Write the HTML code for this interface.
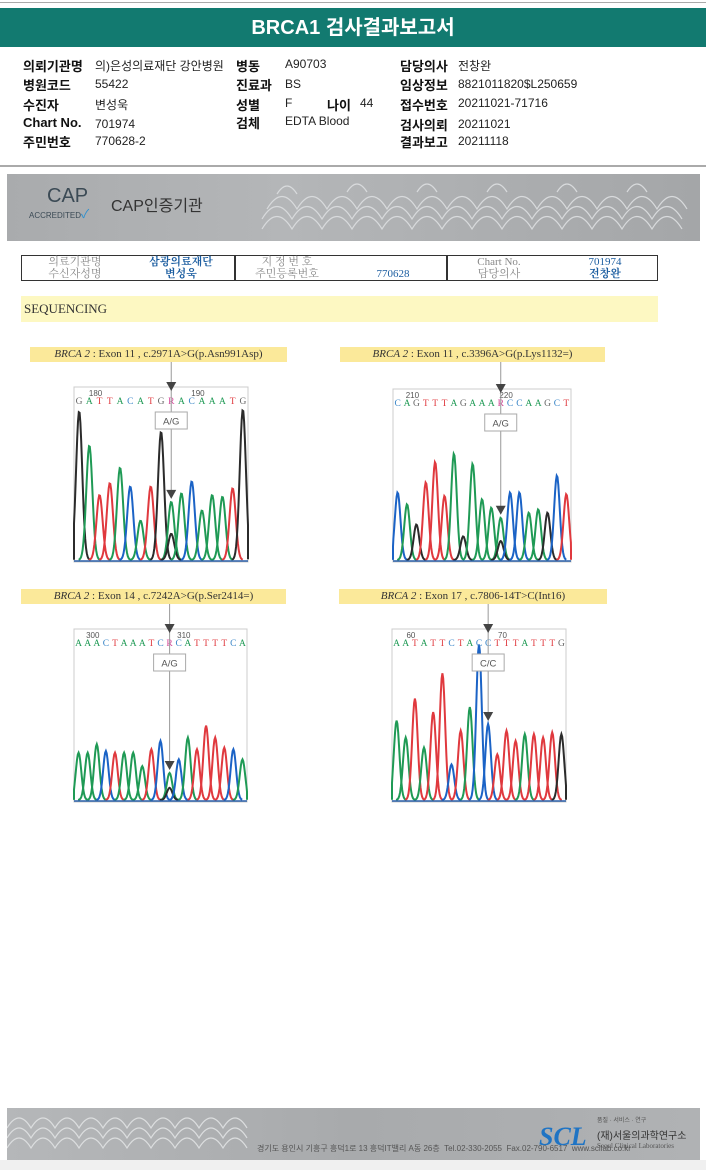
<!DOCTYPE html>
<html><head><meta charset="utf-8">
<style>
body{margin:0;width:706px;height:1170px;background:#fff;position:relative;overflow:hidden;font-family:"Liberation Sans","Noto Sans CJK KR",sans-serif;}
.a{position:absolute;white-space:nowrap;}
.lb{font-weight:bold;font-size:13px;color:#111;}
.v{font-size:12px;color:#222;}
.tbl{position:absolute;left:21px;top:255px;width:637px;height:26px;border:1.5px solid #333;box-sizing:border-box;font-family:"Liberation Serif","Noto Serif CJK SC",serif;font-size:11px;}
.tbl div{position:absolute;text-align:center;height:12px;line-height:12px;}
.ylab{position:absolute;background:#fbe99a;font-family:"Liberation Serif","Noto Serif CJK SC",serif;font-size:11px;color:#333;text-align:center;height:15px;line-height:15px;}
</style></head><body>
<div class="a" style="left:0;top:2px;width:706px;height:1px;background:#aaa"></div>
<div class="a" style="left:0;top:8px;width:706px;height:39px;background:#127a70;color:#fff;font-weight:bold;font-size:20px;text-align:center;line-height:40px">BRCA1 검사결과보고서</div>

<div>
<div class="a lb" style="left:23px;top:56px">의뢰기관명</div><div class="a v" style="left:95px;top:57px">의)은성의료재단 강안병원</div>
<div class="a lb" style="left:23px;top:75px">병원코드</div><div class="a v" style="left:95px;top:77px">55422</div>
<div class="a lb" style="left:23px;top:95px">수진자</div><div class="a v" style="left:95px;top:96px">변성욱</div>
<div class="a lb" style="left:23px;top:115px">Chart No.</div><div class="a v" style="left:95px;top:117px">701974</div>
<div class="a lb" style="left:23px;top:132px">주민번호</div><div class="a v" style="left:95px;top:134px">770628-2</div>
<div class="a lb" style="left:236px;top:56px">병동</div><div class="a v" style="left:285px;top:57px">A90703</div>
<div class="a lb" style="left:236px;top:75px">진료과</div><div class="a v" style="left:285px;top:77px">BS</div>
<div class="a lb" style="left:236px;top:95px">성별</div><div class="a v" style="left:285px;top:96px">F</div>
<div class="a lb" style="left:327px;top:95px">나이</div><div class="a v" style="left:360px;top:96px">44</div>
<div class="a lb" style="left:236px;top:113px">검체</div><div class="a v" style="left:285px;top:114px">EDTA Blood</div>
<div class="a lb" style="left:400px;top:56px">담당의사</div><div class="a v" style="left:458px;top:57px">전창완</div>
<div class="a lb" style="left:400px;top:75px">임상정보</div><div class="a v" style="left:458px;top:77px">8821011820$L250659</div>
<div class="a lb" style="left:400px;top:95px">접수번호</div><div class="a v" style="left:458px;top:96px">20211021-71716</div>
<div class="a lb" style="left:400px;top:115px">검사의뢰</div><div class="a v" style="left:458px;top:117px">20211021</div>
<div class="a lb" style="left:400px;top:132px">결과보고</div><div class="a v" style="left:458px;top:134px">20211118</div>
</div>
<div class="a" style="left:0;top:165px;width:706px;height:2px;background:#aaa"></div>

<div class="a" style="left:7px;top:174px;width:693px;height:67px;background:linear-gradient(90deg,#a9abad,#b4b6b8 40%,#a4a6a8)">
<svg width="693" height="67" style="position:absolute;left:0;top:0">
<g fill="none" stroke="#d8dadc" stroke-width="1.2">
<path d="M260 35 q15-25 30 0 q15-25 30 0 q15-25 30 0 q15-25 30 0 q15-25 30 0 q15-25 30 0 q15-25 30 0 q15-25 30 0 q15-25 30 0 q15-25 30 0 q15-25 30 0 q15-25 30 0 q15-25 30 0 q15-25 30 0"/>
<path d="M255 45 q15-25 30 0 q15-25 30 0 q15-25 30 0 q15-25 30 0 q15-25 30 0 q15-25 30 0 q15-25 30 0 q15-25 30 0 q15-25 30 0 q15-25 30 0 q15-25 30 0 q15-25 30 0 q15-25 30 0 q15-25 30 0"/>
<path d="M255 55 q15-25 30 0 q15-25 30 0 q15-25 30 0 q15-25 30 0 q15-25 30 0 q15-25 30 0 q15-25 30 0 q15-25 30 0 q15-25 30 0 q15-25 30 0 q15-25 30 0 q15-25 30 0 q15-25 30 0 q15-25 30 0"/>
<path d="M270 20 q10-16 20 0 M340 18 q10-16 20 0 M410 18 q10-16 20 0 M480 18 q10-16 20 0 M550 18 q10-16 20 0 M620 18 q10-16 20 0"/>
</g>
</svg>
<div class="a" style="left:40px;top:11px;font-size:20px;color:#3b4a55">CAP</div>
<div class="a" style="left:22px;top:31px;font-size:8px;color:#3b4a55">ACCREDITED<span style="color:#2a8fd0;font-size:12px">✓</span></div>
<div class="a" style="left:104px;top:18px;font-size:16px;color:#333">CAP인증기관</div>
</div>

<div class="tbl">
<div style="left:0;top:0;width:106px;color:#888">의료기관명</div>
<div style="left:106px;top:0;width:106px;color:#1b5da0;font-weight:bold">삼광의료재단</div>
<div style="left:212px;top:0;width:106px;color:#888">지 정 번 호</div>
<div style="left:424px;top:0;width:106px;color:#888">Chart No.</div>
<div style="left:530px;top:0;width:106px;color:#1b5da0">701974</div>
<div style="left:0;top:12px;width:106px;color:#888">수신자성명</div>
<div style="left:106px;top:12px;width:106px;color:#1b5da0;font-weight:bold">변성욱</div>
<div style="left:212px;top:12px;width:106px;color:#888">주민등록번호</div>
<div style="left:318px;top:12px;width:106px;color:#1b5da0">770628</div>
<div style="left:424px;top:12px;width:106px;color:#888">담당의사</div>
<div style="left:530px;top:12px;width:106px;color:#1b5da0;font-weight:bold">전창완</div>
<span style="position:absolute;left:212px;top:0;width:1.5px;height:24px;background:#333"></span>
<span style="position:absolute;left:424px;top:0;width:1.5px;height:24px;background:#333"></span>
</div>

<div class="a" style="left:21px;top:296px;width:637px;height:26px;background:#fdf8c2;font-family:'Liberation Serif',serif;font-size:13px;color:#333;line-height:26px;padding-left:3px;box-sizing:border-box">SEQUENCING</div>

<div class="ylab" style="left:30px;top:347px;width:257px"><i>BRCA 2</i> : Exon 11 , c.2971A&gt;G(p.Asn991Asp)</div>
<div class="ylab" style="left:340px;top:347px;width:265px"><i>BRCA 2</i> : Exon 11 , c.3396A&gt;G(p.Lys1132=)</div>
<div class="ylab" style="left:21px;top:589px;width:265px"><i>BRCA 2</i> : Exon 14 , c.7242A&gt;G(p.Ser2414=)</div>
<div class="ylab" style="left:339px;top:589px;width:268px"><i>BRCA 2</i> : Exon 17 , c.7806-14T&gt;C(Int16)</div>

<svg id="chrom" width="706" height="1170" style="position:absolute;left:0;top:0"></svg>

<div class="a" style="left:7px;top:1108px;width:693px;height:52px;background:linear-gradient(90deg,#b5b7b9,#a8aaac 50%,#b0b2b4)">
<svg width="260" height="52" style="position:absolute;left:0;top:0"><g fill="none" stroke="#dcdedf" stroke-width="1.2">
<path d="M0 30 q12-20 24 0 q12-20 24 0 q12-20 24 0 q12-20 24 0 q12-20 24 0 q12-20 24 0 q12-20 24 0 q12-20 24 0 q12-20 24 0 q12-20 24 0"/>
<path d="M0 40 q12-20 24 0 q12-20 24 0 q12-20 24 0 q12-20 24 0 q12-20 24 0 q12-20 24 0 q12-20 24 0 q12-20 24 0 q12-20 24 0 q12-20 24 0"/>
<path d="M0 20 q12-20 24 0 q12-20 24 0 q12-20 24 0 q12-20 24 0 q12-20 24 0 q12-20 24 0 q12-20 24 0 q12-20 24 0 q12-20 24 0 q12-20 24 0"/>
</g></svg>
<div class="a" style="left:250px;top:35px;font-size:8px;color:#555">경기도 용인시 기흥구 흥덕1로 13 흥덕IT밸리 A동 26층 &nbsp;Tel.02-330-2055 &nbsp;Fax.02-790-6517 &nbsp;www.scllab.co.kr</div>
<div class="a" style="left:532px;top:14px;font-size:26px;font-style:italic;font-weight:bold;font-family:'Liberation Serif',serif;color:#1f74c4">SCL</div>
<div class="a" style="left:590px;top:7px;font-size:6px;color:#555">품질 · 서비스 · 연구</div>
<div class="a" style="left:590px;top:19px;font-size:10px;color:#333">(재)서울의과학연구소</div>
<div class="a" style="left:590px;top:34px;font-size:7px;color:#555;font-family:'Liberation Serif',serif">Seoul Clinical Laboratories</div>
</div>
<div class="a" style="left:0;top:1160px;width:706px;height:10px;background:#f0f0f0"></div>

<script>
// Panel 1
const seq1 = "GATTACATGRACAAATG";
const peaks1 = [0.87,0.67,0.38,0.45,0.54,0.43,0.23,0.43,0.75,0.34,0.39,0.46,0.29,0.38,0.37,0.42,0.88];
const num1 = ["180","190"];
// Panel 2
const seq2 = "CAGTTTAGAAARCCAAGCT";
const peaks2 = [0.40,0.33,0.21,0.46,0.58,0.38,0.63,0.14,0.57,0.36,0.31,0.25,0.40,0.40,0.28,0.30,0.28,0.50,0.39];
const num2 = ["210","220"];
// Panel 3
const seq3 = "AAACTAAATCRCATTTTCA";
const peaks3 = [0.28,0.28,0.33,0.29,0.28,0.28,0.28,0.20,0.30,0.35,0.16,0.24,0.37,0.30,0.44,0.37,0.31,0.30,0.24];
const num3 = ["300","310"];
// Panel 4
const seq4 = "AATATTCTACCTTTATTTG";
const peaks4 = [0.47,0.37,0.60,0.31,0.52,0.75,0.21,0.41,0.55,0.92,0.45,0.27,0.41,0.35,0.39,0.39,0.37,0.40,0.39];
const num4 = ["60","70"];
const calls = ["A/G","A/G","A/G","C/C"];

const NS="http://www.w3.org/2000/svg";
const svg=document.getElementById('chrom');
const COL={A:"#1f9a55",C:"#1b63c6",G:"#2b2b2b",T:"#e0393e",R:"#d4489a"};
const LCOL={A:"#1f9a55",C:"#3a86c8",G:"#666",T:"#e0393e",R:"#d4489a"};
function mk(t,a){const e=document.createElementNS(NS,t);for(const k in a)e.setAttribute(k,a[k]);svg.appendChild(e);return e;}

function panel(seq,peaks,nums,call,box,labelBottom,idx){
  const [x0,y0,x1,y1]=box, n=seq.length, w=x1-x0, h=y1-y0;
  const sx=i=>x0+w*(i+0.5)/n;
  const sy=v=>y1-2-v*(h-4);
  const frame=mk('rect',{x:x0,y:y0,width:w,height:h,fill:'#fff',stroke:'#ccc','stroke-width':1});
  
  
  const sig=w/n*0.3;
  const traces=[];
  for(let i=0;i<n;i++){
    const b=seq[i];
    if(b==='R'){traces.push({c:COL.A,i,v:peaks[i]});traces.push({c:COL.G,i,v:peaks[i]*0.45});}
    else traces.push({c:COL[b],i,v:peaks[i]});
  }
  traces.forEach((t,k)=>{
    const cx=sx(t.i); let d='';
    for(let dx=-3.5*sig;dx<=3.5*sig;dx+=0.8){
      const yy=sy(t.v*Math.exp(-dx*dx/(2*sig*sig)));
      const px=Math.max(x0,Math.min(x1,cx+dx));
      d+=(d?'L':'M')+px.toFixed(1)+' '+Math.max(y0+1,yy).toFixed(1);
    }
    const p=mk('path',{d,fill:'none',stroke:t.c,'stroke-width':2});
    
    
  });
  mk('line',{x1:x0,y1:y1-1,x2:x1,y2:y1-1,stroke:'#2a5fa8','stroke-width':1.5});
  for(let i=0;i<n;i++){
    const t=mk('text',{x:sx(i),y:y0+17,'text-anchor':'middle','font-size':9.5,fill:LCOL[seq[i]],'font-family':'Liberation Serif, serif'});
    t.textContent=seq[i];
    
    
  }
  nums.forEach((s,k)=>{
    const pos=k===0?Math.round(n*0.12):Math.round(n*0.12)+10;
    const t=mk('text',{x:sx(Math.min(pos,n-1))-4,y:y0+9,'text-anchor':'middle','font-size':8,fill:'#555'});
    t.textContent=s;
    
    
  });
  const vi=seq.indexOf('R')>=0?seq.indexOf('R'):10;
  const ax=sx(vi);
  const py=sy(peaks[vi]);
  mk('line',{x1:ax,y1:labelBottom,x2:ax,y2:py-8,stroke:'#999','stroke-width':1});
  mk('path',{d:`M${ax-5} ${y0-5} L${ax+5} ${y0-5} L${ax} ${y0+4}Z`,fill:'#444'});
  mk('path',{d:`M${ax-5} ${py-12} L${ax+5} ${py-12} L${ax} ${py-3}Z`,fill:'#444'});
  const r=mk('rect',{x:ax-16,y:y0+25,width:32,height:17,fill:'#fff',stroke:'#aaa'});
  
  
  const t=mk('text',{x:ax,y:y0+37.5,'text-anchor':'middle','font-size':9.5,fill:'#555'});
  t.textContent=call;
}
panel(seq1,peaks1,num1,calls[0],[74,387,248,562],362,1);
panel(seq2,peaks2,num2,calls[1],[393,389,571,562],362,2);
panel(seq3,peaks3,num3,calls[2],[74,629,247,802],604,3);
panel(seq4,peaks4,num4,calls[3],[392,629,566,802],604,4);
</script>
</body></html>
